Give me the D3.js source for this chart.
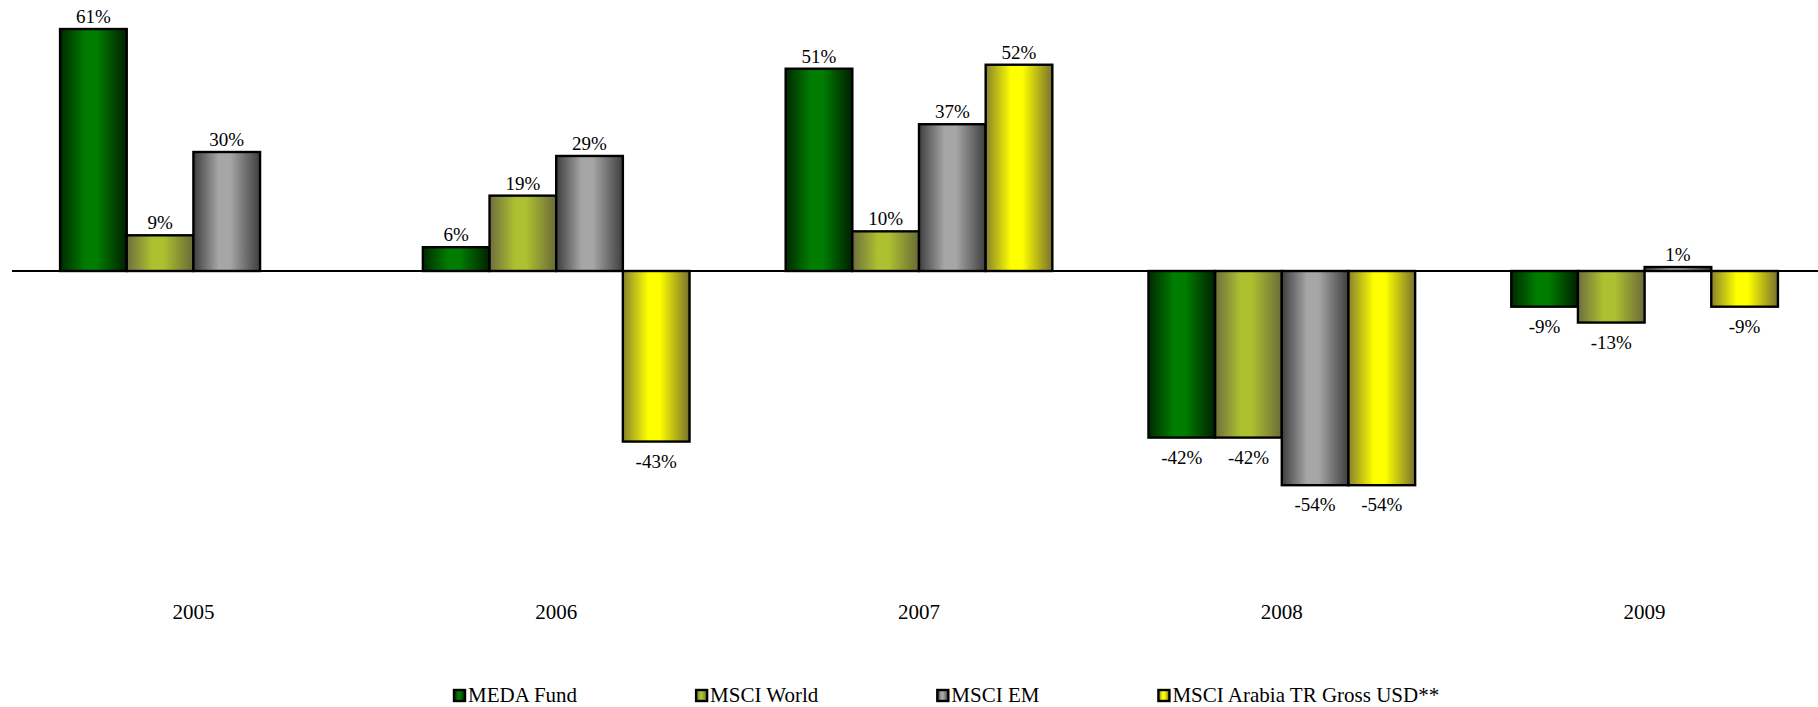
<!DOCTYPE html>
<html>
<head>
<meta charset="utf-8">
<script src="https://cdn.jsdelivr.net/npm/d3@7"></script>
<style>
  html, body { margin: 0; padding: 0; background: #fff; }
  svg { display: block; }
</style>
</head>
<body>
<svg id="chart" width="1818" height="707"></svg>
<script>
// Annual returns by year
const years = ["2005", "2006", "2007", "2008", "2009"];
const seriesNames = ["MEDA Fund", "MSCI World", "MSCI EM", "MSCI Arabia TR Gross USD**"];
const medaFund   = [61, 6, 51, -42, -9];
const msciWorld  = [9, 19, 10, -42, -13];
const msciEM     = [30, 29, 37, -54, 1];
const msciArabia = [null, -43, 52, -54, -9];
const seriesValues = [medaFund, msciWorld, msciEM, msciArabia];

// shaded fills: edge colour, centre colour, edge colour
const shades = [
  ["#002a00", "#007d00", "#002000"],
  ["#6e6e3e", "#adc030", "#6a6a38"],
  ["#3e3e3e", "#a6a6a6", "#3e3e3e"],
  ["#86822e", "#ffff00", "#78722e"]
];

const FONT = "Liberation Serif";

const svg = d3.select("#chart");
const W = 1818;

const defs = svg.append("defs");
shades.forEach((s, i) => {
  const g = defs.append("linearGradient")
    .attr("id", "shade" + i)
    .attr("x1", "0%").attr("x2", "100%").attr("y1", "0%").attr("y2", "0%");
  g.append("stop").attr("offset", "0%").attr("stop-color", s[0]);
  g.append("stop").attr("offset", "38%").attr("stop-color", s[1]);
  g.append("stop").attr("offset", "55%").attr("stop-color", s[1]);
  g.append("stop").attr("offset", "100%").attr("stop-color", s[2]);
});

const x0 = d3.scaleBand().domain(years).range([12, 1826])
  .paddingInner(0.265).paddingOuter(0.1325);
const x1 = d3.scaleBand().domain(d3.range(seriesNames.length))
  .range([0, x0.bandwidth()]);
const y = d3.scaleLinear().domain([-60, 60]).range([509, 33]);

const rows = [];
years.forEach((yr, i) => {
  seriesValues.forEach((vals, s) => {
    if (vals[i] !== null) rows.push({ year: yr, s, v: vals[i] });
  });
});

const plot = svg.append("g");

// bars
plot.selectAll("rect.bar").data(rows).enter().append("rect")
  .attr("class", "bar")
  .attr("x", d => x0(d.year) + x1(d.s))
  .attr("width", x1.bandwidth())
  .attr("y", d => Math.min(y(d.v), y(0)))
  .attr("height", d => Math.abs(y(d.v) - y(0)))
  .attr("fill", d => `url(#shade${d.s})`)
  .attr("stroke", "#000")
  .attr("stroke-width", 2.4);

// zero line
plot.append("line")
  .attr("x1", 12).attr("x2", W)
  .attr("y1", y(0)).attr("y2", y(0))
  .attr("stroke", "#000").attr("stroke-width", 2);

// value labels
plot.selectAll("text.val").data(rows).enter().append("text")
  .attr("class", "val")
  .attr("x", d => x0(d.year) + x1(d.s) + x1.bandwidth() / 2)
  .attr("y", d => d.v >= 0 ? y(d.v) - 6 : y(d.v) + 26)
  .attr("text-anchor", "middle")
  .style("font-family", FONT)
  .style("font-size", "19px")
  .attr("fill", "#000")
  .text(d => d.v + "%");

// category labels
const xAxis = d3.axisBottom(x0).tickSize(0).tickPadding(0);
const axisG = svg.append("g").attr("transform", "translate(0,604)").call(xAxis);
axisG.select(".domain").remove();
axisG.attr("font-family", FONT);
axisG.selectAll("text")
  .style("font-family", FONT)
  .style("font-size", "21px")
  .attr("fill", "#000");

// legend
const legend = svg.append("g").attr("transform", "translate(453,702)");
let lx = 0;
seriesNames.forEach((name, i) => {
  const item = legend.append("g").attr("transform", `translate(${lx},0)`);
  item.append("rect")
    .attr("x", 1).attr("y", -12)
    .attr("width", 11).attr("height", 11)
    .attr("fill", `url(#shade${i})`)
    .attr("stroke", "#000").attr("stroke-width", 2.4);
  const t = item.append("text")
    .attr("x", 15).attr("y", 0)
    .style("font-family", FONT)
    .style("font-size", "21px")
    .attr("fill", "#000")
    .text(name);
  lx += 15 + t.node().getComputedTextLength() + 118;
});
</script>
</body>
</html>
